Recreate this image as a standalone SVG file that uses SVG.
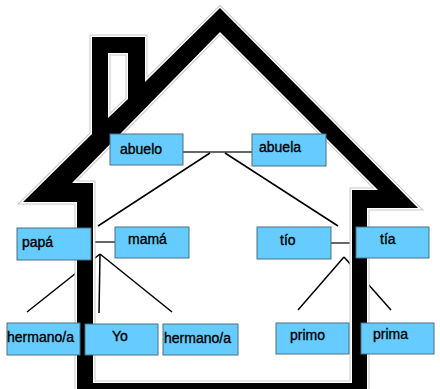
<svg xmlns="http://www.w3.org/2000/svg" width="440" height="389" viewBox="0 0 440 389">
<style>
.box{fill:#66ccff;stroke:#4f6f80;stroke-width:1}
.lbl{font-family:"Comic Sans MS","Liberation Sans",sans-serif;font-size:14px;fill:#000;stroke:#000;stroke-width:0.35}
.ln{stroke:#000;stroke-width:1.5;fill:none}
.hl{stroke:#333;stroke-width:1.5;fill:none}
</style>
<rect width="440" height="389" fill="#fff"/>
<g id="connectors">
<line class="hl" x1="183" y1="152" x2="252" y2="152"/>
<line class="ln" x1="210" y1="153" x2="98" y2="226"/>
<line class="ln" x1="225" y1="153" x2="338" y2="226"/>
<line class="hl" x1="91" y1="242" x2="115" y2="242"/>
<line class="ln" x1="100" y1="254" x2="27" y2="312"/>
<line class="ln" x1="100" y1="254" x2="99" y2="313"/>
<line class="ln" x1="100" y1="254" x2="172" y2="312"/>
<line class="hl" x1="331" y1="243" x2="356" y2="243"/>
<line class="ln" x1="344" y1="257" x2="298" y2="310"/>
<line class="ln" x1="344" y1="257" x2="391" y2="310"/>
</g>
<g id="house">
<path d="M23,202 L92,134 L92,37 L145,37 L145,82 L220,8 L418,208 L367,208 L367,395 L77,395 L77,202 Z M93,383 L352,383 L352,190 L378,190 L220,32 L72,183 L93,183 Z M108,53 L108,118 L128,99 L128,53 Z" fill="none" stroke="#c8c8c8" stroke-width="5" stroke-linejoin="miter"/>
<path d="M23,202 L92,134 L92,37 L145,37 L145,82 L220,8 L418,208 L367,208 L367,395 L77,395 L77,202 Z M93,383 L352,383 L352,190 L378,190 L220,32 L72,183 L93,183 Z M108,53 L108,118 L128,99 L128,53 Z" fill="none" stroke="#fff" stroke-width="3" stroke-linejoin="miter"/>
<path d="M23,202 L92,134 L92,37 L145,37 L145,82 L220,8 L418,208 L367,208 L367,395 L77,395 L77,202 Z M93,383 L352,383 L352,190 L378,190 L220,32 L72,183 L93,183 Z M108,53 L108,118 L128,99 L128,53 Z" fill="#000" fill-rule="evenodd"/>
</g>
<g id="abuelo"><rect class="box" x="110" y="134" width="73" height="31"/><text class="lbl" x="120" y="154">abuelo</text></g>
<g id="abuela"><rect class="box" x="252" y="134" width="74" height="32"/><text class="lbl" x="259" y="152">abuela</text></g>
<g id="papa"><rect class="box" x="17" y="228" width="74" height="32"/><text class="lbl" x="22" y="247">papá</text></g>
<g id="mama"><rect class="box" x="115" y="227" width="74" height="31"/><text class="lbl" x="128" y="244">mamá</text></g>
<g id="tio"><rect class="box" x="257" y="227" width="74" height="32"/><text class="lbl" x="280" y="245">tío</text></g>
<g id="tia"><rect class="box" x="356" y="227" width="73" height="31"/><text class="lbl" x="380" y="244">tía</text></g>
<g id="hermano1"><rect class="box" x="7" y="323" width="73" height="32"/><text class="lbl" x="7" y="342">hermano/a</text></g>
<g id="yo"><rect class="box" x="85" y="324" width="73" height="31"/><text class="lbl" x="112" y="341">Yo</text></g>
<g id="hermano2"><rect class="box" x="163" y="324" width="75" height="31"/><text class="lbl" x="164" y="343">hermano/a</text></g>
<g id="primo"><rect class="box" x="276" y="323" width="73" height="31"/><text class="lbl" x="290" y="340">primo</text></g>
<g id="prima"><rect class="box" x="361" y="323" width="73" height="31"/><text class="lbl" x="373" y="339">prima</text></g>
</svg>
